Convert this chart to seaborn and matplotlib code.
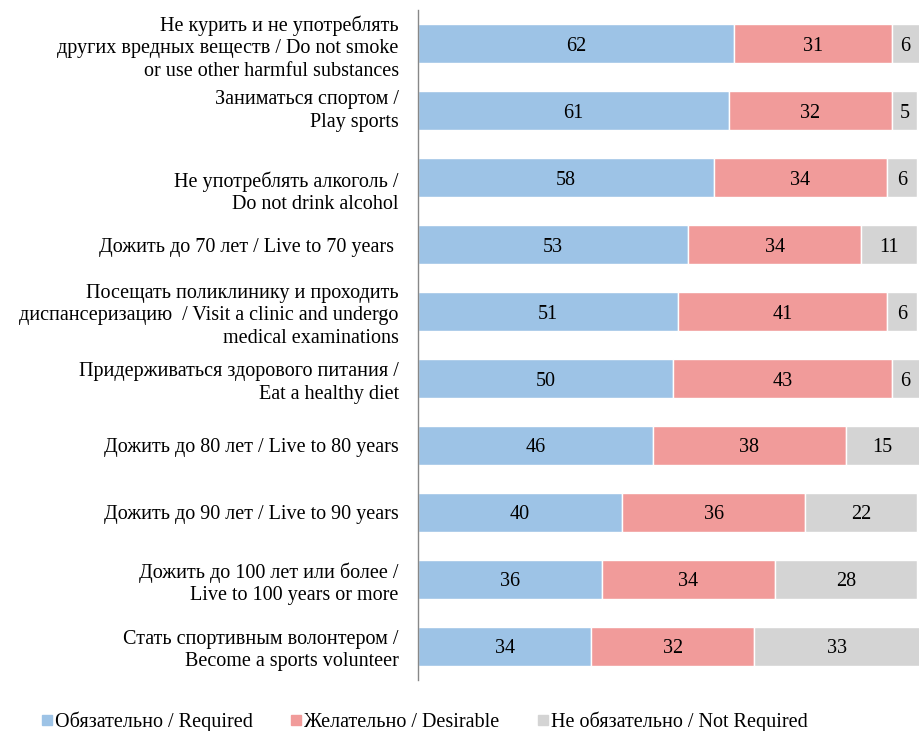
import seaborn as sns
import matplotlib.pyplot as plt
import matplotlib.transforms as mtransforms
from matplotlib.lines import Line2D

# data
categories = [
    'Не курить и не употреблять\nдругих вредных веществ / Do not smoke\nor use other harmful substances',
    'Заниматься спортом /\nPlay sports',
    'Не употреблять алкоголь /\nDo not drink alcohol',
    'Дожить до 70 лет / Live to 70 years ',
    'Посещать поликлинику и проходить\nдиспансеризацию  / Visit a clinic and undergo\nmedical examinations',
    'Придерживаться здорового питания /\nEat a healthy diet',
    'Дожить до 80 лет / Live to 80 years',
    'Дожить до 90 лет / Live to 90 years',
    'Дожить до 100 лет или более /\nLive to 100 years or more',
    'Стать спортивным волонтером /\nBecome a sports volunteer',
]
required = [62, 61, 58, 53, 51, 50, 46, 40, 36, 34]
desirable = [31, 32, 34, 34, 41, 43, 38, 36, 34, 32]
not_required = [6, 5, 6, 11, 6, 6, 15, 22, 28, 33]
series_names = ['Обязательно / Required', 'Желательно / Desirable', 'Не обязательно / Not Required']
colors = ['#9DC3E6', '#F19B9A', '#D4D4D4']

sns.set_style('white')
plt.rcParams['font.family'] = ['Liberation Serif', 'DejaVu Serif']
plt.rcParams['font.size'] = 14.5
plt.rcParams['text.color'] = 'black'
plt.rcParams['ytick.color'] = 'black'

fig = plt.figure(figsize=(9.19, 7.31), dpi=100)
ax = fig.add_axes([0.455, 0.07, 0.545, 0.916])

lefts = [0] * len(categories)
for vals, col in zip([required, desirable, not_required], colors):
    sns.barplot(x=vals, y=categories, orient='h', color=col, width=0.58,
                saturation=1, ax=ax)
    cont = ax.containers[-1]
    for patch, l in zip(cont.patches, lefts):
        patch.set_x(l)
    txts = ax.bar_label(cont, labels=[str(v) for v in vals], label_type='center',
                        fontsize=14.5, color='black')
    for t in txts:
        t.set_va('center_baseline')
    lefts = [l + v for l, v in zip(lefts, vals)]

ax.set_xlim(0, 98.3)
ax.set_ylim(9.5, -0.5)
ax.set_xticks([])
ax.set_xlabel('')
ax.set_ylabel('')
for s in ['top', 'right', 'bottom']:
    ax.spines[s].set_visible(False)
ax.spines['left'].set_color('#888888')
ax.spines['left'].set_linewidth(1.0)
ax.tick_params(axis='y', length=0, pad=14, labelsize=14.5, labelcolor='black')
for lab in ax.get_yticklabels():
    lab.set_linespacing(1.25)

# small vertical nudges of some labels as in the original
shifts = {1: 4, 2: -11}
for i, lab in enumerate(ax.get_yticklabels()):
    if i in shifts:
        lab.set_transform(lab.get_transform() +
                          mtransforms.ScaledTranslation(0, shifts[i] / 100, fig.dpi_scale_trans))

handles = [Line2D([], [], marker='s', linestyle='none', markersize=7,
                  markerfacecolor=c, markeredgecolor=c) for c in colors]
fig.legend(handles, series_names, loc='lower center', bbox_to_anchor=(0.462, -0.026),
           ncol=3, frameon=False, fontsize=14.5, handlelength=0.5,
           handletextpad=0.15, columnspacing=1.9)

fig.savefig('out.png', dpi=100)
